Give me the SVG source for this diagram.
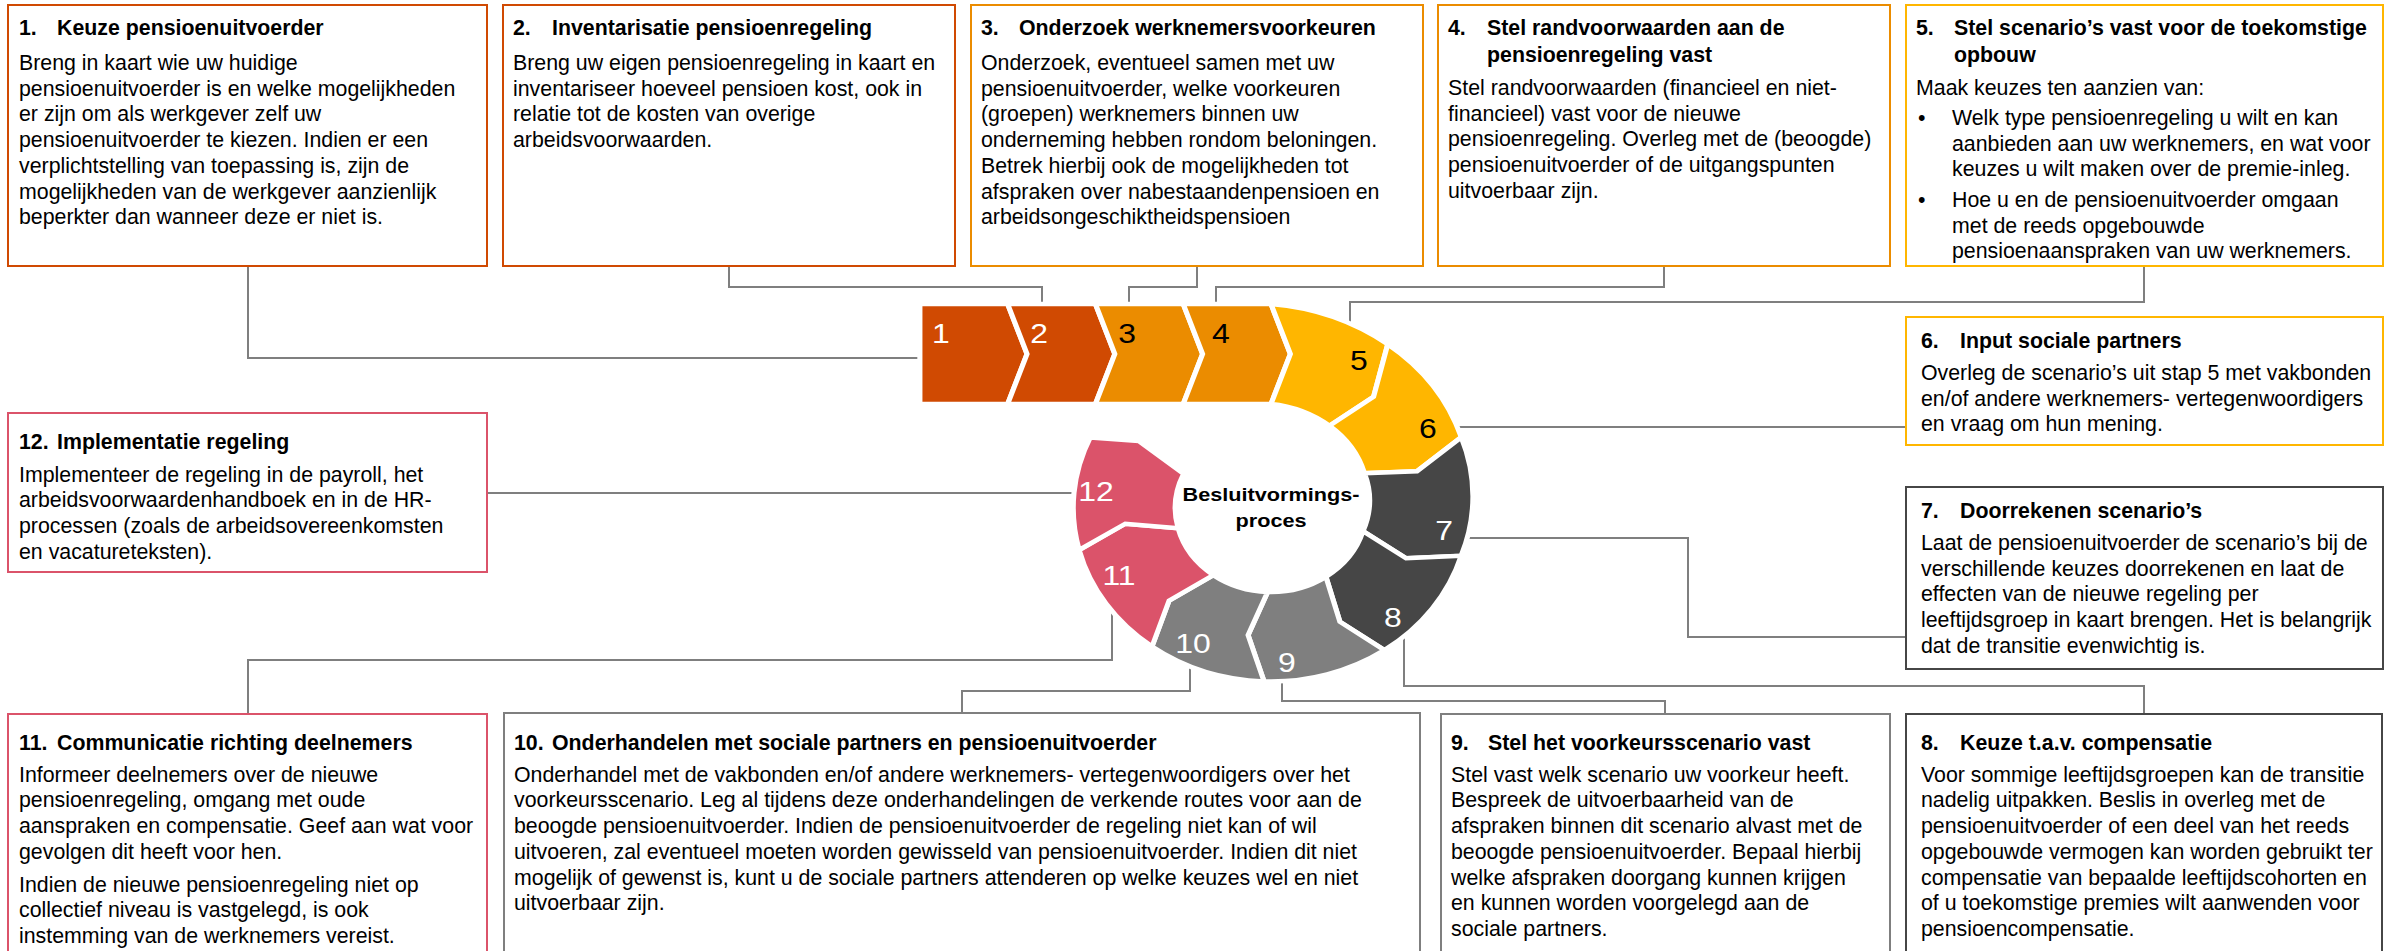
<svg xmlns="http://www.w3.org/2000/svg" width="2399" height="951" viewBox="0 0 2399 951">
<style>
text{font-family:"Liberation Sans",Arial,Helvetica,sans-serif;fill:#000}
.box{fill:#fff;stroke-width:2}
.k1{stroke:#D04A02}.k3{stroke:#EB8C00}.k5{stroke:#FFB600}.k7{stroke:#464646}.k9{stroke:#7F7F7F}.k11{stroke:#DB536A}
.t{font-size:21.33px;font-weight:bold}
.b{font-size:21.33px}
.conn polyline{fill:none;stroke:#7F7F7F;stroke-width:2}
.seg{stroke:#fff;stroke-width:4.5;stroke-linejoin:miter;stroke-miterlimit:6}
.num{font-size:28px;text-anchor:middle}
.wt{fill:#fff}
.ctr{font-size:19px;font-weight:bold;text-anchor:middle}
</style>
<rect x="0" y="0" width="2399" height="951" fill="#fff"/>

<g id="connectors" class="conn">
<polyline points="248,266 248,358 922,358"/>
<polyline points="729,266 729,287 1042,287 1042,306"/>
<polyline points="1197,266 1197,287 1129,287 1129,306"/>
<polyline points="1664,266 1664,287 1216,287 1216,306"/>
<polyline points="2144,266 2144,302 1350,302 1350,325"/>
<polyline points="1455,427 1906,427"/>
<polyline points="1463,538 1688,538 1688,637 1906,637"/>
<polyline points="1404,634 1404,686 2144,686 2144,714"/>
<polyline points="1282,679 1282,701 1665,701 1665,714"/>
<polyline points="1190,664 1190,691 962,691 962,713"/>
<polyline points="1112,608 1112,660 248,660 248,714"/>
<polyline points="1077,493 487,493"/>
</g>

<g id="process" transform="translate(1271,508) scale(1.14,1)">
<g id="step-1"><path class="seg" fill="#D04A02" d="M-308,-204 L-231,-204 L-214,-154 L-231,-104 L-308,-104 Z"/><text class="num wt" x="-289.5" y="-164.7">1</text></g>
<g id="step-2"><path class="seg" fill="#D04A02" d="M-231,-204 L-154,-204 L-137,-154 L-154,-104 L-231,-104 L-214,-154 Z"/><text class="num wt" x="-203.5" y="-164.7">2</text></g>
<g id="step-3"><path class="seg" fill="#EB8C00" d="M-154,-204 L-77,-204 L-60,-154 L-77,-104 L-154,-104 L-137,-154 Z"/><text class="num" x="-126.3" y="-164.7">3</text></g>
<g id="step-4"><path class="seg" fill="#EB8C00" d="M-77,-204 L0,-204 L17,-154 L0,-104 L-77,-104 L-60,-154 Z"/><text class="num" x="-43.9" y="-164.7">4</text></g>
<g id="step-5"><path class="seg" fill="#FFB600" d="M0,-204 A198,198 0 0 1 102.4,-163.8 L90,-111.2 L51.3,-82.2 A100,100 0 0 0 0,-104 L17,-154 Z"/><text class="num" x="77.2" y="-138">5</text></g>
<g id="step-6"><path class="seg" fill="#FFB600" d="M102.4,-163.8 A187,187 0 0 1 166.9,-70.8 L128.1,-36.7 L82,-34.8 A93,93 0 0 0 51.3,-82.2 L90,-111.2 Z"/><text class="num" x="137.7" y="-69.7">6</text></g>
<g id="step-7"><path class="seg" fill="#464646" d="M166.9,-70.8 A176,176 0 0 1 166.8,47.8 L118.5,50.3 L80.7,23.2 A86,86 0 0 0 82,-34.8 L128.1,-36.7 Z"/><text class="num wt" x="151.8" y="32">7</text></g>
<g id="step-8"><path class="seg" fill="#464646" d="M166.8,47.8 A173.5,173.5 0 0 1 99.5,142.1 L60.4,113.7 L48.2,68.8 A84,84 0 0 0 80.7,23.2 L118.5,50.3 Z"/><text class="num wt" x="107" y="118.7">8</text></g>
<g id="step-9"><path class="seg" fill="#7F7F7F" d="M99.5,142.1 A173.5,173.5 0 0 1 -6.1,173.4 L-20.1,127.2 L-2.9,83.9 A84,84 0 0 0 48.2,68.8 L60.4,113.7 Z"/><text class="num wt" x="14" y="163.7">9</text></g>
<g id="step-10"><path class="seg" fill="#7F7F7F" d="M-6.1,173.4 A173.5,173.5 0 0 1 -104.4,138.6 L-89.4,92.6 L-50.6,67.1 A84,84 0 0 0 -2.9,83.9 L-20.1,127.2 Z"/><text class="num wt" x="-68.4" y="145">10</text></g>
<g id="step-11"><path class="seg" fill="#DB536A" d="M-104.4,138.6 A173.5,173.5 0 0 1 -168.3,42 L-127.8,15.7 L-81.5,20.3 A84,84 0 0 0 -50.6,67.1 L-89.4,92.6 Z"/><text class="num wt" x="-133.3" y="77">11</text></g>
<g id="step-12"><path class="seg" fill="#DB536A" d="M-168.3,42 A173.5,173.5 0 0 1 -158.5,-70.6 L-116,-67 L-76.7,-34.2 A84,84 0 0 0 -81.5,20.3 L-127.8,15.7 Z"/><text class="num wt" x="-153.5" y="-7.3">12</text></g>
<g id="center"><text class="ctr" x="0" y="-7.3">Besluitvormings-</text><text class="ctr" x="0" y="18.7">proces</text></g>
</g>

<g id="node-1">
<rect class="box k1" x="8" y="5" width="479" height="261"/>
<text class="t" x="19" y="35">1.</text><text class="t" x="57" y="35">Keuze pensioenuitvoerder</text>
<text class="b" x="19" y="70">Breng in kaart wie uw huidige</text>
<text class="b" x="19" y="95.7">pensioenuitvoerder is en welke mogelijkheden</text>
<text class="b" x="19" y="121.4">er zijn om als werkgever zelf uw</text>
<text class="b" x="19" y="147.1">pensioenuitvoerder te kiezen. Indien er een</text>
<text class="b" x="19" y="172.8">verplichtstelling van toepassing is, zijn de</text>
<text class="b" x="19" y="198.5">mogelijkheden van de werkgever aanzienlijk</text>
<text class="b" x="19" y="224.2">beperkter dan wanneer deze er niet is.</text>
</g>

<g id="node-2">
<rect class="box k1" x="503" y="5" width="452" height="261"/>
<text class="t" x="513" y="35">2.</text><text class="t" x="552" y="35">Inventarisatie pensioenregeling</text>
<text class="b" x="513" y="70">Breng uw eigen pensioenregeling in kaart en</text>
<text class="b" x="513" y="95.7">inventariseer hoeveel pensioen kost, ook in</text>
<text class="b" x="513" y="121.4">relatie tot de kosten van overige</text>
<text class="b" x="513" y="147.1">arbeidsvoorwaarden.</text>
</g>

<g id="node-3">
<rect class="box k3" x="971" y="5" width="452" height="261"/>
<text class="t" x="981" y="35">3.</text><text class="t" x="1019" y="35">Onderzoek werknemersvoorkeuren</text>
<text class="b" x="981" y="70">Onderzoek, eventueel samen met uw</text>
<text class="b" x="981" y="95.7">pensioenuitvoerder, welke voorkeuren</text>
<text class="b" x="981" y="121.4">(groepen) werknemers binnen uw</text>
<text class="b" x="981" y="147.1">onderneming hebben rondom beloningen.</text>
<text class="b" x="981" y="172.8">Betrek hierbij ook de mogelijkheden tot</text>
<text class="b" x="981" y="198.5">afspraken over nabestaandenpensioen en</text>
<text class="b" x="981" y="224.2">arbeidsongeschiktheidspensioen</text>
</g>

<g id="node-4">
<rect class="box k3" x="1438" y="5" width="452" height="261"/>
<text class="t" x="1448" y="35">4.</text><text class="t" x="1487" y="35">Stel randvoorwaarden aan de</text>
<text class="t" x="1487" y="61.7">pensioenregeling vast</text>
<text class="b" x="1448" y="95">Stel randvoorwaarden (financieel en niet-</text>
<text class="b" x="1448" y="120.7">financieel) vast voor de nieuwe</text>
<text class="b" x="1448" y="146.4">pensioenregeling. Overleg met de (beoogde)</text>
<text class="b" x="1448" y="172.1">pensioenuitvoerder of de uitgangspunten</text>
<text class="b" x="1448" y="197.8">uitvoerbaar zijn.</text>
</g>

<g id="node-5">
<rect class="box k5" x="1906" y="5" width="477" height="261"/>
<text class="t" x="1916" y="35">5.</text><text class="t" x="1954" y="35">Stel scenario’s vast voor de toekomstige</text>
<text class="t" x="1954" y="61.7">opbouw</text>
<text class="b" x="1916" y="95">Maak keuzes ten aanzien van:</text>
<text class="b" x="1918" y="125">•</text>
<text class="b" x="1952" y="125">Welk type pensioenregeling u wilt en kan</text>
<text class="b" x="1952" y="150.7">aanbieden aan uw werknemers, en wat voor</text>
<text class="b" x="1952" y="175.7">keuzes u wilt maken over de premie-inleg.</text>
<text class="b" x="1918" y="207.3">•</text>
<text class="b" x="1952" y="207.3">Hoe u en de pensioenuitvoerder omgaan</text>
<text class="b" x="1952" y="232.7">met de reeds opgebouwde</text>
<text class="b" x="1952" y="258.3">pensioenaanspraken van uw werknemers.</text>
</g>

<g id="node-6">
<rect class="box k5" x="1906" y="317" width="477" height="128"/>
<text class="t" x="1921" y="348.3">6.</text><text class="t" x="1960" y="348.3">Input sociale partners</text>
<text class="b" x="1921" y="380">Overleg de scenario’s uit stap 5 met vakbonden</text>
<text class="b" x="1921" y="405.7">en/of andere werknemers- vertegenwoordigers</text>
<text class="b" x="1921" y="431.4">en vraag om hun mening.</text>
</g>

<g id="node-7">
<rect class="box k7" x="1906" y="487" width="477" height="182"/>
<text class="t" x="1921" y="518.3">7.</text><text class="t" x="1960" y="518.3">Doorrekenen scenario’s</text>
<text class="b" x="1921" y="550">Laat de pensioenuitvoerder de scenario’s bij de</text>
<text class="b" x="1921" y="575.7">verschillende keuzes doorrekenen en laat de</text>
<text class="b" x="1921" y="601.4">effecten van de nieuwe regeling per</text>
<text class="b" x="1921" y="627.1">leeftijdsgroep in kaart brengen. Het is belangrijk</text>
<text class="b" x="1921" y="652.8">dat de transitie evenwichtig is.</text>
</g>

<g id="node-8">
<rect class="box k7" x="1906" y="714" width="476" height="260"/>
<text class="t" x="1921" y="750">8.</text><text class="t" x="1960" y="750">Keuze t.a.v. compensatie</text>
<text class="b" x="1921" y="781.7">Voor sommige leeftijdsgroepen kan de transitie</text>
<text class="b" x="1921" y="807.4">nadelig uitpakken. Beslis in overleg met de</text>
<text class="b" x="1921" y="833.1">pensioenuitvoerder of een deel van het reeds</text>
<text class="b" x="1921" y="858.8">opgebouwde vermogen kan worden gebruikt ter</text>
<text class="b" x="1921" y="884.5">compensatie van bepaalde leeftijdscohorten en</text>
<text class="b" x="1921" y="910.2">of u toekomstige premies wilt aanwenden voor</text>
<text class="b" x="1921" y="935.9">pensioencompensatie.</text>
</g>

<g id="node-9">
<rect class="box k9" x="1441" y="714" width="449" height="260"/>
<text class="t" x="1451" y="750">9.</text><text class="t" x="1488" y="750">Stel het voorkeursscenario vast</text>
<text class="b" x="1451" y="781.7">Stel vast welk scenario uw voorkeur heeft.</text>
<text class="b" x="1451" y="807.4">Bespreek de uitvoerbaarheid van de</text>
<text class="b" x="1451" y="833.1">afspraken binnen dit scenario alvast met de</text>
<text class="b" x="1451" y="858.8">beoogde pensioenuitvoerder. Bepaal hierbij</text>
<text class="b" x="1451" y="884.5">welke afspraken doorgang kunnen krijgen</text>
<text class="b" x="1451" y="910.2">en kunnen worden voorgelegd aan de</text>
<text class="b" x="1451" y="935.9">sociale partners.</text>
</g>

<g id="node-10">
<rect class="box k9" x="504" y="713" width="916" height="261"/>
<text class="t" x="514" y="750">10.</text><text class="t" x="552" y="750">Onderhandelen met sociale partners en pensioenuitvoerder</text>
<text class="b" x="514" y="781.7">Onderhandel met de vakbonden en/of andere werknemers- vertegenwoordigers over het</text>
<text class="b" x="514" y="807.4">voorkeursscenario. Leg al tijdens deze onderhandelingen de verkende routes voor aan de</text>
<text class="b" x="514" y="833.1">beoogde pensioenuitvoerder. Indien de pensioenuitvoerder de regeling niet kan of wil</text>
<text class="b" x="514" y="858.8">uitvoeren, zal eventueel moeten worden gewisseld van pensioenuitvoerder. Indien dit niet</text>
<text class="b" x="514" y="884.5">mogelijk of gewenst is, kunt u de sociale partners attenderen op welke keuzes wel en niet</text>
<text class="b" x="514" y="910.2">uitvoerbaar zijn.</text>
</g>

<g id="node-11">
<rect class="box k11" x="8" y="714" width="479" height="260"/>
<text class="t" x="19" y="750">11.</text><text class="t" x="57" y="750">Communicatie richting deelnemers</text>
<text class="b" x="19" y="781.7">Informeer deelnemers over de nieuwe</text>
<text class="b" x="19" y="807.4">pensioenregeling, omgang met oude</text>
<text class="b" x="19" y="833.1">aanspraken en compensatie. Geef aan wat voor</text>
<text class="b" x="19" y="858.8">gevolgen dit heeft voor hen.</text>
<text class="b" x="19" y="891.7">Indien de nieuwe pensioenregeling niet op</text>
<text class="b" x="19" y="917.4">collectief niveau is vastgelegd, is ook</text>
<text class="b" x="19" y="943.1">instemming van de werknemers vereist.</text>
</g>

<g id="node-12">
<rect class="box k11" x="8" y="413" width="479" height="159"/>
<text class="t" x="19" y="449.3">12.</text><text class="t" x="57" y="449.3">Implementatie regeling</text>
<text class="b" x="19" y="481.7">Implementeer de regeling in de payroll, het</text>
<text class="b" x="19" y="507.4">arbeidsvoorwaardenhandboek en in de HR-</text>
<text class="b" x="19" y="533.1">processen (zoals de arbeidsovereenkomsten</text>
<text class="b" x="19" y="558.8">en vacatureteksten).</text>
</g>
</svg>
